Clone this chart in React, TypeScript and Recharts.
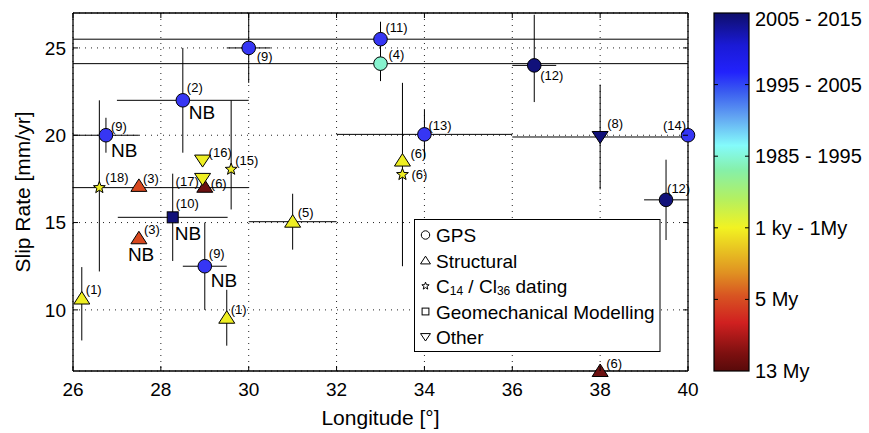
import React from 'react';
import {
  ScatterChart,
  Scatter,
  XAxis,
  YAxis,
  CartesianGrid,
  ErrorBar,
  ReferenceLine,
  Label,
} from 'recharts';

const FONT = '"Liberation Sans", Arial, Helvetica, sans-serif';
const WIDTH = 869;
const HEIGHT = 433;
const PLOT_TOP = 13;
const PLOT_RIGHT = 688;

// colours of each age class, taken along the colour bar
const ERA_COLOR: Record<string, string> = {
  e2005: '#11117a',
  e1995: '#3636f4',
  e1985: '#86f3cf',
  ky: '#eeee22',
  my5: '#d8481f',
  my13: '#6b1111',
};

type Site = {
  lon: number;
  rate: number;
  lonErr: number | number[];
  rateErr: number | number[];
  ref: number;
  era: string;
  nb?: boolean;
};

const gps: Site[] = [
  { lon: 30.0, rate: 25.0, lonErr: 0.5, rateErr: 2, ref: 9, era: 'e1995' },
  { lon: 28.5, rate: 22.0, lonErr: 1.5, rateErr: 3, ref: 2, era: 'e1995', nb: true },
  { lon: 26.75, rate: 20.0, lonErr: 0.75, rateErr: 1, ref: 9, era: 'e1995', nb: true },
  { lon: 29.0, rate: 12.5, lonErr: 0.5, rateErr: 2.5, ref: 9, era: 'e1995', nb: true },
  { lon: 33.0, rate: 25.5, lonErr: [7, 7], rateErr: 1, ref: 11, era: 'e1995' },
  { lon: 33.0, rate: 24.1, lonErr: [7, 7], rateErr: 1, ref: 4, era: 'e1985' },
  { lon: 34.0, rate: 20.05, lonErr: 2, rateErr: 1.4, ref: 13, era: 'e1995' },
  { lon: 36.5, rate: 24.0, lonErr: 0.5, rateErr: [2.1, 2.9], ref: 12, era: 'e2005' },
  { lon: 40.0, rate: 20.0, lonErr: 0, rateErr: 0, ref: 14, era: 'e1995' },
  { lon: 39.5, rate: 16.3, lonErr: 0.5, rateErr: 2.3, ref: 12, era: 'e2005' },
];

const structural: Site[] = [
  { lon: 26.2, rate: 10.65, lonErr: 0, rateErr: [2.4, 1.8], ref: 1, era: 'ky' },
  { lon: 29.5, rate: 9.55, lonErr: 0, rateErr: 1.6, ref: 1, era: 'ky' },
  { lon: 27.5, rate: 17.1, lonErr: 0, rateErr: 0, ref: 3, era: 'my5' },
  { lon: 27.5, rate: 14.1, lonErr: 0, rateErr: 0, ref: 3, era: 'my5', nb: true },
  { lon: 29.0, rate: 17.05, lonErr: 0, rateErr: 0, ref: 6, era: 'my13' },
  { lon: 31.0, rate: 15.05, lonErr: 1, rateErr: 1.6, ref: 5, era: 'ky' },
  { lon: 33.5, rate: 18.55, lonErr: 0, rateErr: 0, ref: 6, era: 'ky' },
  { lon: 38.0, rate: 6.5, lonErr: 0, rateErr: 0, ref: 6, era: 'my13' },
];

const dating: Site[] = [
  { lon: 26.6, rate: 17.0, lonErr: [0.6, 3.4], rateErr: [4.8, 5.0], ref: 18, era: 'ky' },
  { lon: 29.6, rate: 18.05, lonErr: 0, rateErr: [2.3, 3.95], ref: 15, era: 'ky' },
  { lon: 33.5, rate: 17.75, lonErr: 0, rateErr: 5.25, ref: 6, era: 'ky' },
];

const geomech: Site[] = [
  { lon: 28.27, rate: 15.3, lonErr: 1.25, rateErr: 2.5, ref: 10, era: 'e2005', nb: true },
];

const other: Site[] = [
  { lon: 28.95, rate: 18.55, lonErr: 0, rateErr: 0, ref: 16, era: 'ky' },
  { lon: 28.95, rate: 17.5, lonErr: 0, rateErr: 0, ref: 17, era: 'ky' },
  { lon: 38.0, rate: 19.9, lonErr: 2, rateErr: 3, ref: 8, era: 'e2005' },
];

// label placement next to each marker: [refDx, refDy, nbDx, nbDy] in px
const gpsLabelPos = [[8, 13], [4, -8, 6, 19], [5, -4, 5, 22], [4, -8, 6, 21], [5, -7], [8, -5], [4, -4], [6, 15], [-25, -5], [1, -7]];
const structuralLabelPos = [[4, -5], [4, -4], [4, -3], [5, -4, -11, 23], [6, 1], [5, -5], [8, -3], [6, -3]];
const datingLabelPos = [[6, -6], [4, -4], [9, 4]];
const geomechLabelPos = [[3, -9, 2, 23]];
const otherLabelPos = [[6, -4], [-27, 7], [7, -9]];

const LON_TICKS = [26, 28, 30, 32, 34, 36, 38, 40];
const RATE_TICKS = [10, 15, 20, 25];
const COLORBAR_LABELS = ['2005 - 2015', '1995 - 2005', '1985 - 1995', '1 ky - 1My', '5 My', '13 My'];

const LEGEND = [
  { kind: 'circle', text: 'GPS' },
  { kind: 'up', text: 'Structural' },
  { kind: 'star', text: 'dating' },
  { kind: 'square', text: 'Geomechanical Modelling' },
  { kind: 'down', text: 'Other' },
];

function starPoints(cx: number, cy: number, R: number, r: number) {
  const pts: string[] = [];
  for (let k = 0; k < 10; k++) {
    const a = -Math.PI / 2 + (k * Math.PI) / 5;
    const rad = k % 2 === 0 ? R : r;
    pts.push(`${cx + rad * Math.cos(a)},${cy + rad * Math.sin(a)}`);
  }
  return pts.join(' ');
}

function marker(kind: string, cx: number, cy: number, fill: string, s = 1) {
  const common = { fill, stroke: '#000', strokeWidth: 1 };
  switch (kind) {
    case 'circle':
      return <circle cx={cx} cy={cy} r={6.8 * s} {...common} />;
    case 'up':
      return <polygon points={`${cx},${cy - 7 * s} ${cx - 8 * s},${cy + 5.5 * s} ${cx + 8 * s},${cy + 5.5 * s}`} {...common} />;
    case 'down':
      return <polygon points={`${cx - 8 * s},${cy - 5.5 * s} ${cx + 8 * s},${cy - 5.5 * s} ${cx},${cy + 6.5 * s}`} {...common} />;
    case 'star':
      return <polygon points={starPoints(cx, cy, 6.2 * s, 2.6 * s)} {...common} />;
    default:
      return <rect x={cx - 5.5 * s} y={cy - 5.5 * s} width={11 * s} height={11 * s} {...common} />;
  }
}

function siteShape(kind: string, rows: Site[], labelPos: number[][]) {
  return (props: any) => {
    const { cx, cy, payload } = props;
    const i = rows.findIndex((r) => r.lon === payload.lon && r.rate === payload.rate);
    const [dx, dy, nx, ny] = labelPos[i] || [5, -5];
    return (
      <g>
        {marker(kind, cx, cy, ERA_COLOR[payload.era])}
        <text x={cx + dx} y={cy + dy} fontSize={13} fill="#000">({payload.ref})</text>
        {payload.nb && (
          <text x={cx + nx} y={cy + ny} fontSize={19} fill="#000">NB</text>
        )}
      </g>
    );
  };
}

// MATLAB-style ticks: drawn inwards on both sides of the box
const LonTick = ({ x, y, payload }: any) => (
  <g>
    <line x1={x} x2={x} y1={y} y2={y - 5} stroke="#000" />
    <line x1={x} x2={x} y1={PLOT_TOP} y2={PLOT_TOP + 5} stroke="#000" />
    <text x={x} y={y + 25} textAnchor="middle" fontSize={19} fill="#000">{payload.value}</text>
  </g>
);

const RateTick = ({ x, y, payload }: any) => (
  <g>
    <line x1={x} x2={x + 5} y1={y} y2={y} stroke="#000" />
    <line x1={PLOT_RIGHT - 5} x2={PLOT_RIGHT} y1={y} y2={y} stroke="#000" />
    <text x={x - 7} y={y} dy="0.35em" textAnchor="end" fontSize={19} fill="#000">{payload.value}</text>
  </g>
);

// method legend box and the age colour bar
function Overlay() {
  const barX = 714;
  const barW = 35;
  const barTop = 13;
  const barBottom = 371;
  const step = (barBottom - barTop) / 5;
  return (
    <svg width={WIDTH} height={HEIGHT} style={{ position: 'absolute', left: 0, top: 0, pointerEvents: 'none', fontFamily: FONT }}>
      <defs>
        <linearGradient id="jet" x1="0" y1="0" x2="0" y2="1">
          <stop offset="0" stopColor="#0e0e6a" />
          <stop offset="0.09" stopColor="#1a1ad6" />
          <stop offset="0.165" stopColor="#2222fc" />
          <stop offset="0.22" stopColor="#3a5cf0" />
          <stop offset="0.29" stopColor="#62a4f2" />
          <stop offset="0.37" stopColor="#84fbfb" />
          <stop offset="0.44" stopColor="#86f0a8" />
          <stop offset="0.52" stopColor="#b4f060" />
          <stop offset="0.6" stopColor="#f2f222" />
          <stop offset="0.66" stopColor="#e8c422" />
          <stop offset="0.725" stopColor="#e09222" />
          <stop offset="0.79" stopColor="#d85422" />
          <stop offset="0.865" stopColor="#d02020" />
          <stop offset="0.95" stopColor="#7e1010" />
          <stop offset="1" stopColor="#580a0a" />
        </linearGradient>
      </defs>

      <rect x={414.5} y={219.5} width={245.5} height={132} fill="#fff" stroke="#000" strokeWidth={1} />
      {LEGEND.map((item, i) => {
        const base = 242 + i * 25.5;
        return (
          <g key={item.text}>
            {marker(item.kind, 425.5, base - 7, '#fff', 0.62)}
            {item.kind === 'star' ? (
              <text x={436} y={base} fontSize={19} fill="#000">
                C<tspan fontSize={12} dy={2}>14</tspan>
                <tspan dy={-2}> / Cl</tspan>
                <tspan fontSize={12} dy={2}>36</tspan>
                <tspan dy={-2}> dating</tspan>
              </text>
            ) : (
              <text x={436} y={base} fontSize={19} fill="#000">{item.text}</text>
            )}
          </g>
        );
      })}

      <rect x={barX} y={barTop} width={barW} height={barBottom - barTop} fill="url(#jet)" stroke="#000" strokeWidth={1.2} />
      {COLORBAR_LABELS.map((lab, i) => {
        const y = barTop + i * step;
        return (
          <g key={lab}>
            {i > 0 && i < 5 && (
              <>
                <line x1={barX} x2={barX + 4} y1={y} y2={y} stroke="#000" />
                <line x1={barX + barW - 4} x2={barX + barW} y1={y} y2={y} stroke="#000" />
              </>
            )}
            <text x={barX + barW + 6} y={i === 0 ? y + 6 : y} dy="0.35em" fontSize={20} fill="#000">{lab}</text>
          </g>
        );
      })}
    </svg>
  );
}

export default function App() {
  const groups = [
    { name: 'dating', rows: dating, kind: 'star', pos: datingLabelPos },
    { name: 'geomech', rows: geomech, kind: 'square', pos: geomechLabelPos },
    { name: 'gps', rows: gps, kind: 'circle', pos: gpsLabelPos },
    { name: 'structural', rows: structural, kind: 'up', pos: structuralLabelPos },
    { name: 'other', rows: other, kind: 'down', pos: otherLabelPos },
  ];
  return (
    <div style={{ position: 'absolute', left: 0, top: 0, width: WIDTH, height: HEIGHT, fontFamily: FONT, background: '#fff' }}>
      <ScatterChart width={WIDTH} height={HEIGHT} margin={{ top: PLOT_TOP, right: WIDTH - PLOT_RIGHT, bottom: 0, left: 0 }}>
        <CartesianGrid stroke="#222" strokeDasharray="1 5" />
        <XAxis
          type="number"
          dataKey="lon"
          domain={[26, 40]}
          ticks={LON_TICKS}
          height={62}
          tickSize={0}
          tickMargin={0}
          tickLine={false}
          tick={<LonTick />}
          axisLine={{ stroke: '#000', strokeWidth: 1.3 }}
        >
          <Label value="Longitude [°]" position="insideBottom" offset={8} fontSize={21} fill="#000" />
        </XAxis>
        <YAxis
          type="number"
          dataKey="rate"
          domain={[6.5, 27]}
          ticks={RATE_TICKS}
          width={73}
          tickSize={0}
          tickMargin={0}
          tickLine={false}
          tick={<RateTick />}
          axisLine={{ stroke: '#000', strokeWidth: 1.3 }}
        >
          <Label
            value="Slip Rate [mm/yr]"
            angle={-90}
            position="insideLeft"
            offset={23}
            fontSize={21}
            fill="#000"
            style={{ textAnchor: 'middle' }}
          />
        </YAxis>
        <ReferenceLine y={27} stroke="#000" strokeWidth={1.3} />
        <ReferenceLine x={40} stroke="#000" strokeWidth={1.3} />
        {groups.map((g) => (
          <Scatter
            key={g.name}
            name={g.name}
            data={g.rows}
            isAnimationActive={false}
            shape={siteShape(g.kind, g.rows, g.pos)}
          >
            <ErrorBar dataKey="lonErr" direction="x" width={0} stroke="#000" strokeWidth={1} />
            <ErrorBar dataKey="rateErr" direction="y" width={0} stroke="#000" strokeWidth={1} />
          </Scatter>
        ))}
      </ScatterChart>
      <Overlay />
    </div>
  );
}
